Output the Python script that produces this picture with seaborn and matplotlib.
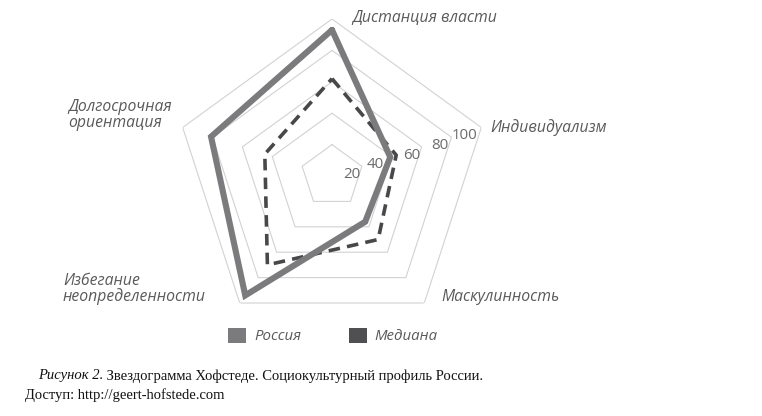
import numpy as np
import matplotlib
matplotlib.use("Agg")
import matplotlib.pyplot as plt
import seaborn as sns
from matplotlib.patches import Patch

# Hofstede dimensions, clockwise from the top
dimensions = ["Дистанция власти", "Индивидуализм", "Маскулинность",
              "Избегание\nнеопределенности", "Долгосрочная\nориентация"]
russia = [93, 39, 36, 94, 81]
median = [62, 43, 50, 70, 45]
ring_levels = [20, 40, 60, 80, 100]
series_names = ["Россия", "Медиана"]
caption_italic = "Рисунок 2."
caption_rest = " Звездограмма Хофстеде. Социокультурный профиль России."
caption_line2 = "Доступ: http://geert-hofstede.com"

sns.set_theme(style="white")
plt.rcParams['font.family'] = ['Open Sans', 'DejaVu Sans']

W, H = 762, 416
fig = plt.figure(figsize=(W / 100, H / 100), dpi=100)

# polar axes centred on the star, radius 157 px for value 100
cx, cy, R = 332, 176, 157
ax = fig.add_axes([(cx - R) / W, (H - cy - R) / H, 2 * R / W, 2 * R / H], polar=True)
ax.set_theta_offset(np.pi / 2)
ax.set_theta_direction(-1)
ax.set_ylim(0, 100)
ax.grid(False)
ax.spines['polar'].set_visible(False)
ax.set_xticks([])
ax.set_yticks([])
ax.patch.set_alpha(0)

angles = np.linspace(0, 2 * np.pi, len(dimensions), endpoint=False)
closed = np.append(angles, angles[0])

# pentagon grid
for lvl in ring_levels:
    ax.plot(closed, [lvl] * len(closed), color="#d2d2d2", lw=0.8, zorder=1)

c_russia = "#7b7b7d"
c_median = "#48484a"
ax.plot(closed, russia + russia[:1], color=c_russia, lw=4.4, zorder=3,
        solid_joinstyle="miter")
ax.plot(closed, median + median[:1], color=c_median, lw=2.6, zorder=2,
        linestyle=(0, (3.2, 2)))

# ring values along the Индивидуализм axis
tick_shift = {20: -1, 40: -6, 60: -1, 80: -2, 100: -3}
for lvl in ring_levels:
    ax.annotate(str(lvl), xy=(angles[1], lvl), xytext=(tick_shift[lvl], -6),
                textcoords="offset points", ha="right", va="center",
                fontsize=10.8, color="#6a6a6a", zorder=4)

# axis labels
label_style = dict(fontsize=11.3, color="#5a5a5a", style="italic")
label_pos = [(352, 18, "left"), (490, 128, "left"), (441, 297, "left"),
             (63, 289, "left"), (68, 115, "left")]
for name, (x, y, ha) in zip(dimensions, label_pos):
    fig.text(x / W, 1 - y / H, name, ha=ha, va="center", linespacing=1.0,
             **label_style)

# legend
handles = [Patch(facecolor=c_russia, edgecolor="none"),
           Patch(facecolor="#505052", edgecolor="none")]
leg = fig.legend(handles, series_names, loc="center", ncol=2,
                 bbox_to_anchor=(333 / W, 1 - 336 / H), frameon=False,
                 handlelength=1.2, handleheight=1.2, columnspacing=3.2,
                 handletextpad=0.5, prop=dict(size=10.8, style="italic"))
for t in leg.get_texts():
    t.set_color("#5a5a5a")

# caption below the chart
serif = ['Liberation Serif', 'DejaVu Serif']
t1 = fig.text(38 / W, 1 - 376 / H, caption_italic, family=serif, style="italic",
              fontsize=10.5, color="#111111", va="center")
fig.canvas.draw()
bb = t1.get_window_extent(fig.canvas.get_renderer())
fig.text(bb.x1 / W, 1 - 376 / H, caption_rest, family=serif, fontsize=10.5,
         color="#111111", va="center")
fig.text(25 / W, 1 - 395 / H, caption_line2, family=serif, fontsize=10.5,
         color="#111111", va="center")

fig.savefig("out.png", dpi=100)
